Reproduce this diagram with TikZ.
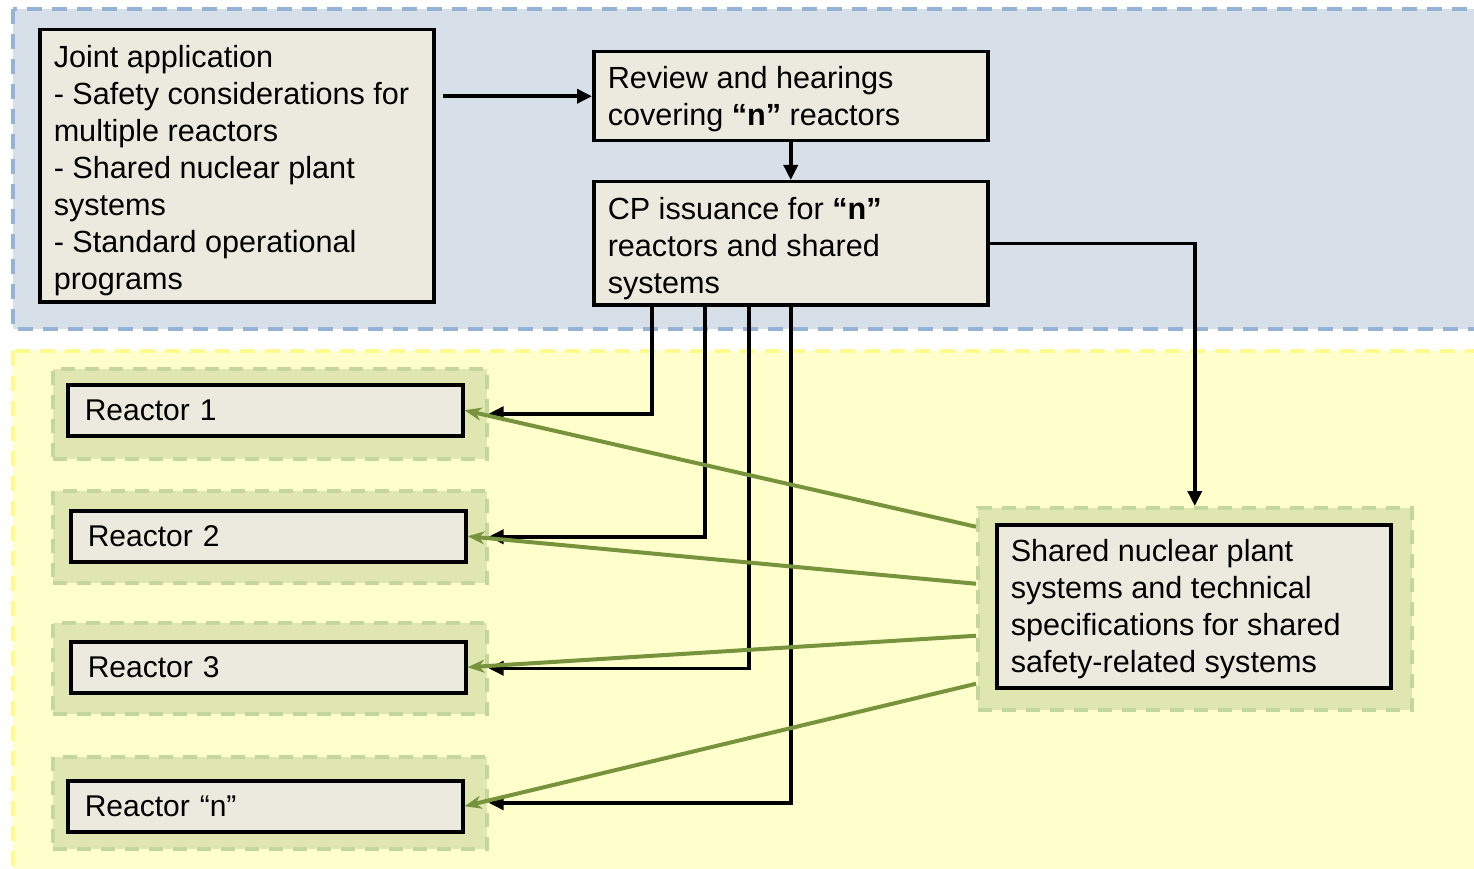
\documentclass[tikz,border=0pt]{standalone}
\usepackage{fontspec}
\setmainfont{Liberation Sans}
\usetikzlibrary{arrows.meta,calc}
\definecolor{bluefill}{RGB}{215,223,232}
\definecolor{bluedash}{RGB}{149,179,215}
\definecolor{yelfill}{RGB}{255,255,204}
\definecolor{yeldash}{RGB}{255,250,140}
\definecolor{grpfill}{RGB}{224,230,176}
\definecolor{grpdash}{RGB}{195,214,155}
\definecolor{boxfill}{RGB}{236,234,223}
\definecolor{linkgreen}{RGB}{119,147,60}
% left-aligned paragraph, drawn slightly lower than its nominal box
\newcommand{\boxtext}[2][4pt]{\raisebox{-#1}[\height][\depth]{\parbox{366pt}{\fontsize{30.6}{37}\selectfont\raggedright #2}}}
\begin{document}
\begin{tikzpicture}[x=1pt,y=-1pt,
  font=\fontsize{30}{37}\selectfont,
  region/.style={line width=3.5pt, dash pattern=on 15pt off 10pt},
  grp/.style={draw=grpdash, fill=grpfill, line width=3.5pt, dash pattern=on 14pt off 10pt,
    anchor=north west, inner sep=0pt},
  box/.style={draw=black, fill=boxfill, line width=3.5pt, inner xsep=16pt, inner ysep=0pt,
    anchor=north west},
  wide/.style={inner xsep=14pt},
  blk/.style={draw=black, line width=3.5pt, -{Triangle[length=15pt,width=14pt]}},
  grn/.style={draw=linkgreen, line width=4pt, -{Stealth[length=17pt,width=13pt]}}]
\useasboundingbox (0,0) rectangle (1474,869);
\clip (0,0) rectangle (1474,869);
\fill[white] (0,0) rectangle (1474,869);

% application and review stage
\draw[region, fill=bluefill, draw=bluedash] (13,9) rectangle (1495,329);
% construction stage
\draw[region, fill=yelfill, draw=yeldash] (13,351) rectangle (1495,890);

% top row of boxes
\node[box, wide, minimum width=394pt, minimum height=272pt] (joint) at (38,28)
  {\boxtext[5pt]{Joint application\\- Safety considerations for\\multiple reactors\\- Shared nuclear plant\\systems\\- Standard operational\\programs}};
\node[box, wide, minimum width=394pt, minimum height=89pt] (review) at (592,50)
  {\boxtext[3pt]{Review and hearings\\covering \textbf{“n”} reactors}};
\node[box, wide, minimum width=394pt, minimum height=123pt] (cp) at (592,180)
  {\boxtext[5pt]{CP issuance for \textbf{“n”}\\reactors and shared\\systems}};

% reactor groups
\node[grp, minimum width=434pt, minimum height=90pt] (g1) at (51,367) {};
\node[grp, minimum width=434pt, minimum height=92pt] (g2) at (51,489) {};
\node[grp, minimum width=434pt, minimum height=91pt] (g3) at (51,621) {};
\node[grp, minimum width=434pt, minimum height=92pt] (gn) at (51,755) {};
\node[grp, minimum width=434pt, minimum height=202pt] (sg) at (976,506) {};

\node[box, inner xsep=17pt, align=left, text width=361pt, minimum width=395pt, minimum height=51pt] (r1) at (66,383) {Reactor 1};
\node[box, inner xsep=17pt, align=left, text width=361pt, minimum width=395pt, minimum height=51pt] (r2) at (69,509) {Reactor 2};
\node[box, inner xsep=17pt, align=left, text width=361pt, minimum width=395pt, minimum height=51pt] (r3) at (69,640) {Reactor 3};
\node[box, inner xsep=17pt, align=left, text width=361pt, minimum width=395pt, minimum height=51pt] (rn) at (66,779) {Reactor “n”};

\node[box, wide, minimum width=394pt, minimum height=163pt] (shared) at (995,523)
  {\boxtext[3pt]{Shared nuclear plant\\systems and technical\\specifications for shared\\safety-related systems}};

% flow through licensing
\draw[blk, shorten <=7pt] (joint.east |- review.west) -- (review.west);
\draw[blk] (review.south) -- (cp.north);
\draw[blk] (cp.east) -| (sg.north);

% permits to each reactor
\draw[blk] ([xshift=-139pt]cp.south) |- (g1.east);
\draw[blk] ([xshift=-86pt]cp.south) |- (g2.east);
\draw[blk] ([xshift=-42pt]cp.south) |- (g3.east);
\draw[blk] (cp.south) |- (gn.east);

% shared systems serving each reactor
\draw[grn] ([yshift=82pt]sg.west) -- (r1.east);
\draw[grn] ([yshift=25pt]sg.west) -- (r2.east);
\draw[grn] ([yshift=-27pt]sg.west) -- (r3.east);
\draw[grn] ([yshift=-75pt]sg.west) -- (rn.east);
\end{tikzpicture}
\end{document}
